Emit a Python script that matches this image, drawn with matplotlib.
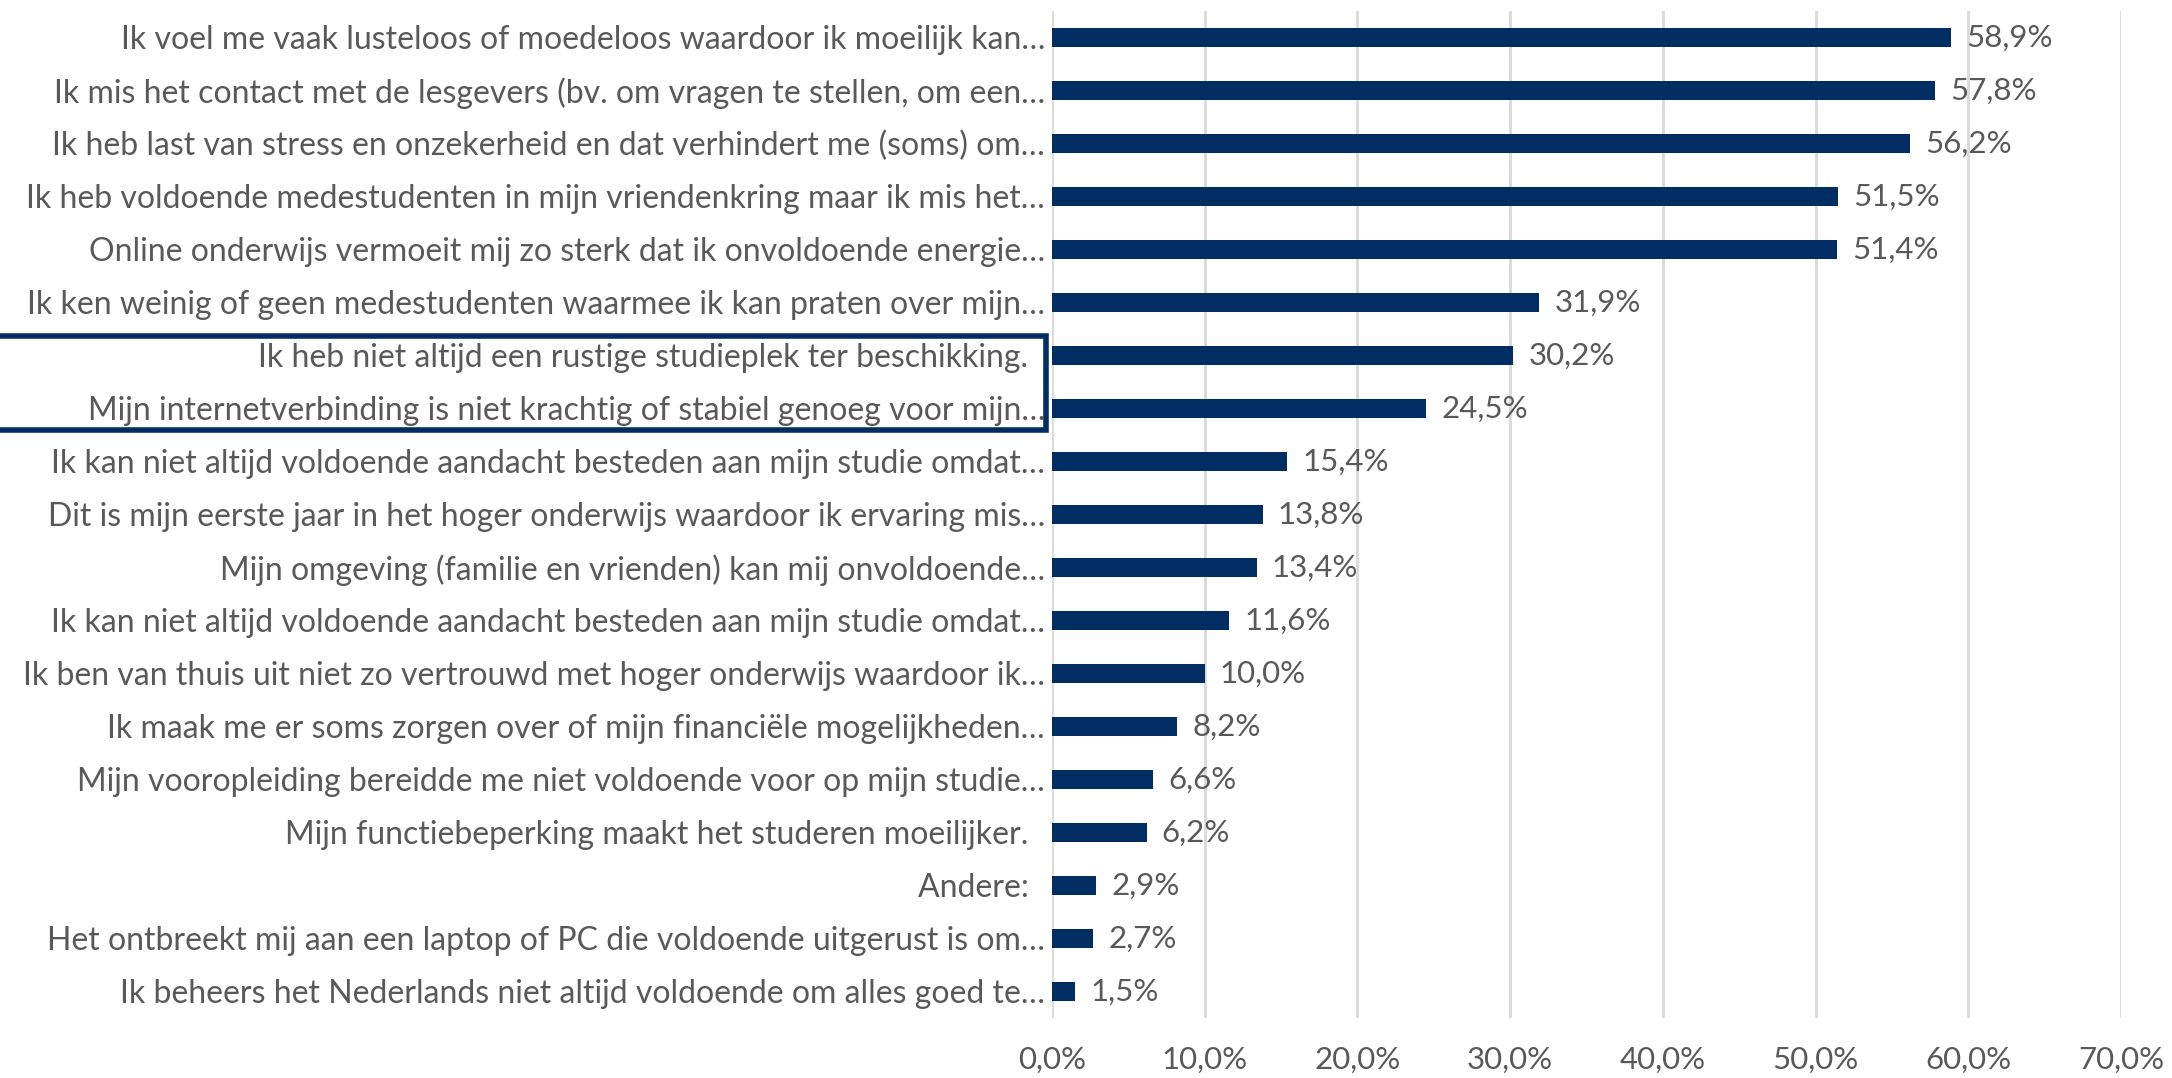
import matplotlib.pyplot as plt
from matplotlib.patches import Rectangle
from matplotlib.transforms import blended_transform_factory
import numpy as np

plt.rcParams["font.family"] = ["Lato", "DejaVu Sans"]

labels = [
    "Ik voel me vaak lusteloos of moedeloos waardoor ik moeilijk kan…",
    "Ik mis het contact met de lesgevers (bv. om vragen te stellen, om een…",
    "Ik heb last van stress en onzekerheid en dat verhindert me (soms) om…",
    "Ik heb voldoende medestudenten in mijn vriendenkring maar ik mis het…",
    "Online onderwijs vermoeit mij zo sterk dat ik onvoldoende energie…",
    "Ik ken weinig of geen medestudenten waarmee ik kan praten over mijn…",
    "Ik heb niet altijd een rustige studieplek ter beschikking.  ",
    "Mijn internetverbinding is niet krachtig of stabiel genoeg voor mijn…",
    "Ik kan niet altijd voldoende aandacht besteden aan mijn studie omdat…",
    "Dit is mijn eerste jaar in het hoger onderwijs waardoor ik ervaring mis…",
    "Mijn omgeving (familie en vrienden) kan mij onvoldoende…",
    "Ik kan niet altijd voldoende aandacht besteden aan mijn studie omdat…",
    "Ik ben van thuis uit niet zo vertrouwd met hoger onderwijs waardoor ik…",
    "Ik maak me er soms zorgen over of mijn financiële mogelijkheden…",
    "Mijn vooropleiding bereidde me niet voldoende voor op mijn studie…",
    "Mijn functiebeperking maakt het studeren moeilijker.  ",
    "Andere:  ",
    "Het ontbreekt mij aan een laptop of PC die voldoende uitgerust is om…",
    "Ik beheers het Nederlands niet altijd voldoende om alles goed te…",
]
values = [58.9, 57.8, 56.2, 51.5, 51.4, 31.9, 30.2, 24.5, 15.4, 13.8,
          13.4, 11.6, 10.0, 8.2, 6.6, 6.2, 2.9, 2.7, 1.5]
x_ticks = [0, 10, 20, 30, 40, 50, 60, 70]

BAR = "#002D62"
TEXT = "#595959"
GRID = "#D9D9D9"

fig = plt.figure(figsize=(21.72, 10.78), dpi=100)
ax = fig.add_axes([0.4843, 0.0557, 0.4922, 0.9343])

y = np.arange(len(values))
bars = ax.barh(y, values, height=0.35, color=BAR, zorder=3)
ax.bar_label(bars, labels=[f"{v:.1f}%".replace(".", ",") for v in values],
             padding=11, color=TEXT, fontsize=22.5)

ax.set_xlim(0, 70)
ax.set_ylim(len(values) - 0.5, -0.5)
ax.set_xticks(x_ticks)
ax.set_xticklabels([f"{t:.1f}%".replace(".", ",") for t in x_ticks])
ax.set_yticks(y)
ax.set_yticklabels(labels)
ax.tick_params(axis="both", length=0, colors=TEXT, labelsize=23)
ax.tick_params(axis="x", pad=20, labelsize=22.5)
ax.tick_params(axis="y", pad=5)
ax.grid(axis="x", color=GRID, linewidth=2, zorder=0)
for s in ax.spines.values():
    s.set_visible(False)

# box around the two highlighted labels
trans = blended_transform_factory(fig.transFigure, ax.transData)
box = Rectangle((-0.002, 5.64), 0.4836, 1.76, transform=trans, fill=False,
                edgecolor=BAR, linewidth=4, clip_on=False)
fig.add_artist(box)

fig.savefig("out.png", dpi=100)
